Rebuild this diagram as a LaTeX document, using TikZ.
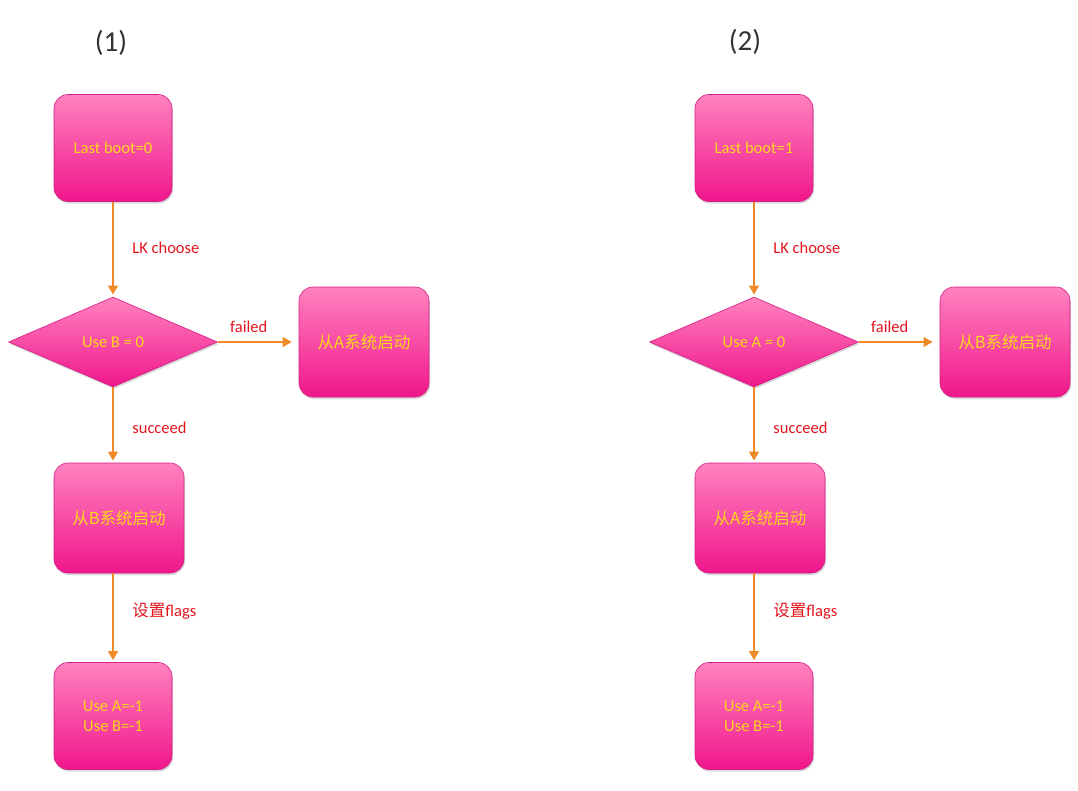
\documentclass[tikz,border=0pt]{standalone}
\usepackage{fontspec}
\setmainfont{Carlito}
\newfontfamily\cjk{Noto Sans CJK SC}
\usetikzlibrary{shapes.geometric,arrows.meta,shadows}

\definecolor{boxtop}{HTML}{FF82BE}
\definecolor{boxbot}{HTML}{F0168C}
\definecolor{boxline}{HTML}{D41E86}
\definecolor{txtyellow}{HTML}{FFD81E}
\definecolor{flowline}{HTML}{F08A28}
\definecolor{lblred}{HTML}{E4141C}

\tikzset{
  stepbox/.style={rectangle, rounded corners=14pt, draw=boxline, line width=0.6pt,
    top color=boxtop, bottom color=boxbot, text=txtyellow, align=center,
    minimum width=118pt, minimum height=107pt, inner sep=2pt,
    font=\fontsize{16.5}{20}\selectfont,
    drop shadow={opacity=0.3, shadow xshift=1pt, shadow yshift=-2pt}},
  widebox/.style={stepbox, minimum width=130pt, minimum height=110pt},
  choice/.style={diamond, aspect=2.3, draw=boxline, line width=0.6pt,
    top color=boxtop, bottom color=boxbot, text=txtyellow, inner sep=0pt,
    minimum width=209pt, minimum height=90pt, font=\fontsize{16.5}{20}\selectfont,
    drop shadow={opacity=0.3, shadow xshift=1pt, shadow yshift=-2pt}},
  flow/.style={draw=flowline, line width=2.8pt, -{Triangle[length=9pt,width=9.5pt]}},
  lbl/.style={text=lblred, font=\fontsize{16.5}{20}\selectfont, inner sep=1pt},
  title/.style={font=\fontsize{29}{34}\selectfont, text=black!80}
}

\begin{document}
\begin{tikzpicture}[x=1pt,y=1pt]
    \useasboundingbox (0,0) rectangle (1078,-790);
    % column (1)
    \node [title] (title1) at (111,-43) {(1)};
    \node [stepbox] (boot1) at (113,-148) {Last boot=0};
    \node [choice] (test1) at (113,-342) {Use B = 0};
    \node [widebox] (other1) at (364,-342) {\cjk 从A系统启动};
    \node [widebox] (run1) at (119,-518) {\cjk 从B系统启动};
    \node [stepbox] (flags1) at (113,-716) {Use A=-1\\Use B=-1};
    \draw [flow] (boot1.south) -- node [lbl, anchor=west, xshift=17pt] {LK choose} ([yshift=2pt]test1.north);
    \draw [flow] (test1.east) -- node [lbl, above=7pt, xshift=-6pt] {failed} ([xshift=-7pt]other1.west);
    \draw [flow] (test1.south) -- node [lbl, anchor=west, xshift=17pt, yshift=-4pt] {succeed} ([yshift=2pt]test1.south |- run1.north);
    \draw [flow] (flags1.north |- run1.south) -- node [lbl, anchor=west, xshift=17pt, yshift=6pt] {{\cjk 设置}flags} ([yshift=2pt]flags1.north);
    % column (2)
    \node [title] (title2) at (745,-42) {(2)};
    \node [stepbox] (boot2) at (754,-148) {Last boot=1};
    \node [choice] (test2) at (754,-342) {Use A = 0};
    \node [widebox] (other2) at (1005,-342) {\cjk 从B系统启动};
    \node [widebox] (run2) at (760,-518) {\cjk 从A系统启动};
    \node [stepbox] (flags2) at (754,-716) {Use A=-1\\Use B=-1};
    \draw [flow] (boot2.south) -- node [lbl, anchor=west, xshift=17pt] {LK choose} ([yshift=2pt]test2.north);
    \draw [flow] (test2.east) -- node [lbl, above=7pt, xshift=-6pt] {failed} ([xshift=-7pt]other2.west);
    \draw [flow] (test2.south) -- node [lbl, anchor=west, xshift=17pt, yshift=-4pt] {succeed} ([yshift=2pt]test2.south |- run2.north);
    \draw [flow] (flags2.north |- run2.south) -- node [lbl, anchor=west, xshift=17pt, yshift=6pt] {{\cjk 设置}flags} ([yshift=2pt]flags2.north);
\end{tikzpicture}
\end{document}
